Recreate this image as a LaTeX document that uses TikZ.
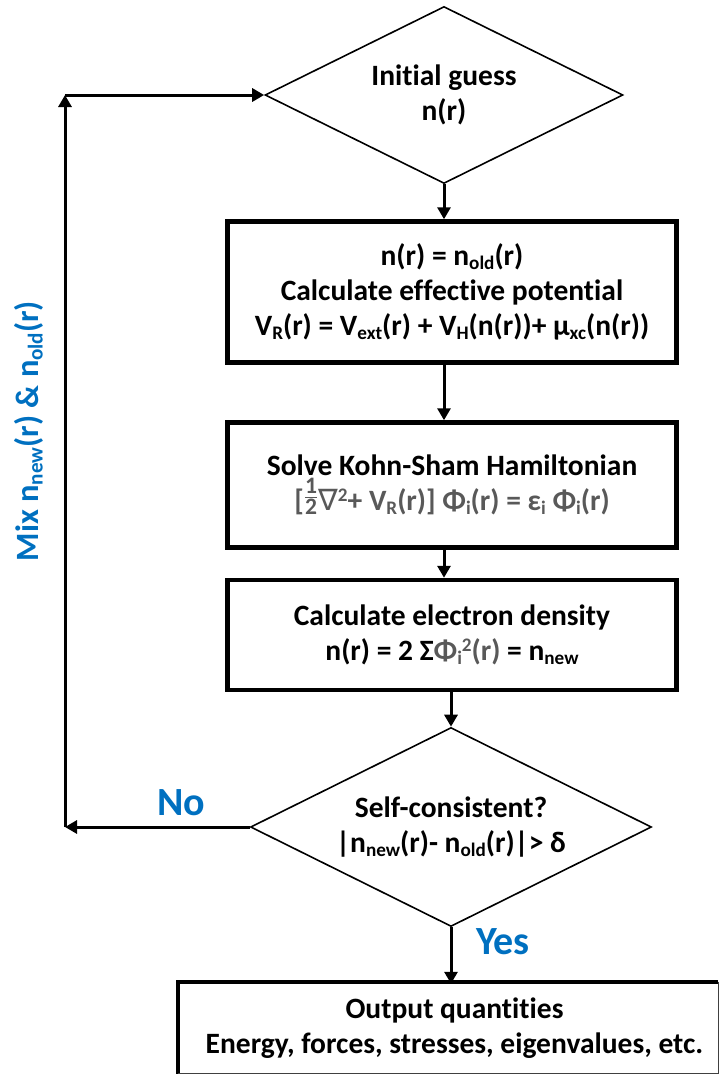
\documentclass[tikz,border=0pt]{standalone}
\usepackage{fontspec}
\setmainfont{Carlito}[Ligatures=NoCommon]
\newfontfamily\dvs{DejaVu Sans}
\usetikzlibrary{shapes.geometric,arrows.meta}
\definecolor{mblue}{RGB}{0,112,192}
\definecolor{mgrey}{RGB}{89,89,89}
\newcommand\lo[1]{\raisebox{-0.12em}{\scalebox{0.65}{#1}}}
\newcommand\hi[1]{\raisebox{0.32em}{\scalebox{0.65}{#1}}}
\newcommand\half{\raisebox{7pt}{${\hbox{\scalebox{0.8}{1}}\above 1.2pt\hbox{\scalebox{0.8}{2}}}$}}
\begin{document}
\begin{tikzpicture}[x=1pt,y=-1pt,
  txt/.style={font=\bfseries\fontsize{29.5}{35}\selectfont, align=center},
  stepbox/.style={txt, draw, line width=4.5pt, rectangle, minimum width=449pt, inner sep=0pt},
  dia/.style={txt, diamond, draw, line width=1.6pt, inner sep=0pt, shape aspect=2.02},
  arr/.style={line width=3pt, -{Triangle[length=12pt,width=13pt]}},
  lbl/.style={text=mblue, font=\bfseries\fontsize{40}{40}\selectfont, inner sep=0pt}]
\useasboundingbox (0,0) rectangle (719,1074);

\node[dia, minimum width=358pt, minimum height=177pt] (d1) at (444,95) {Initial guess\\n(r)};
\node[stepbox, minimum height=141pt] (b1) at (452,292)
  {n(r) = n\lo{old}(r)\\Calculate effective potential\\V\lo{R}(r) = V\lo{ext}(r) + V\lo{H}(n(r))+ μ\lo{xc}(n(r))};
\node[stepbox, minimum height=125pt] (b2) at (452,485)
  {Solve Kohn-Sham Hamiltonian\\{\color{mgrey}[\half{\dvs\mdseries ∇}\hi{2}+ V\lo{R}(r)] Φ\lo{i}(r) = ε\lo{i} Φ\lo{i}(r)}};
\node[stepbox, minimum height=110pt] (b3) at (452,635)
  {Calculate electron density\\n(r) = 2 Σ{\color{mgrey}Φ\lo{i}\hi{2}(r)} = n\lo{new}};
\node[dia, minimum width=401pt, minimum height=199pt] (d2) at (451,827)
  {Self-consistent?\\|n\lo{new}(r)- n\lo{old}(r)|> δ};
\node[stepbox, draw=none, minimum width=537pt, minimum height=88pt] (out) at (448.5,1028)
  {\hspace*{12pt}Output quantities\\\hspace*{12pt}Energy, forces, stresses, eigenvalues, etc.};
\draw[line width=4pt] (out.south west) -- (out.north west) -- ([xshift=-1pt]out.north east);
\draw[line width=1.2pt, black!75] ([xshift=-1pt]out.north east) -- ([xshift=-1pt,yshift=1pt]out.south east) -- ([yshift=1pt]out.south west);

\coordinate (c1) at (65,827);
\coordinate (c2) at (65,95);

\draw[arr] (d1.south) -- (d1.south |- b1.north);
\draw[arr] (b1.south -| d1.south) -- (b2.north -| d1.south);
\draw[arr] (b2.south -| d1.south) -- (b3.north -| d1.south);
\draw[arr] (b3.south -| d2.north) -- (d2.north);
\draw[arr] (d2.south) -- ([yshift=-2pt]d2.south |- out.north);
\draw[arr] (d2.west) -- (c1);
\draw[arr] (c1) -- (c2);
\draw[arr] (c2) -- (d1.west);

\node[lbl] (no) at (181,803) {No};
\node[lbl] (yes) at (503,942) {Yes};
\node[text=mblue, rotate=90, font=\bfseries\fontsize{32.5}{32.5}\selectfont, inner sep=0pt] (mix) at (29,431)
  {Mix n\lo{new}(r) \& n\lo{old}(r)};
\end{tikzpicture}
\end{document}
